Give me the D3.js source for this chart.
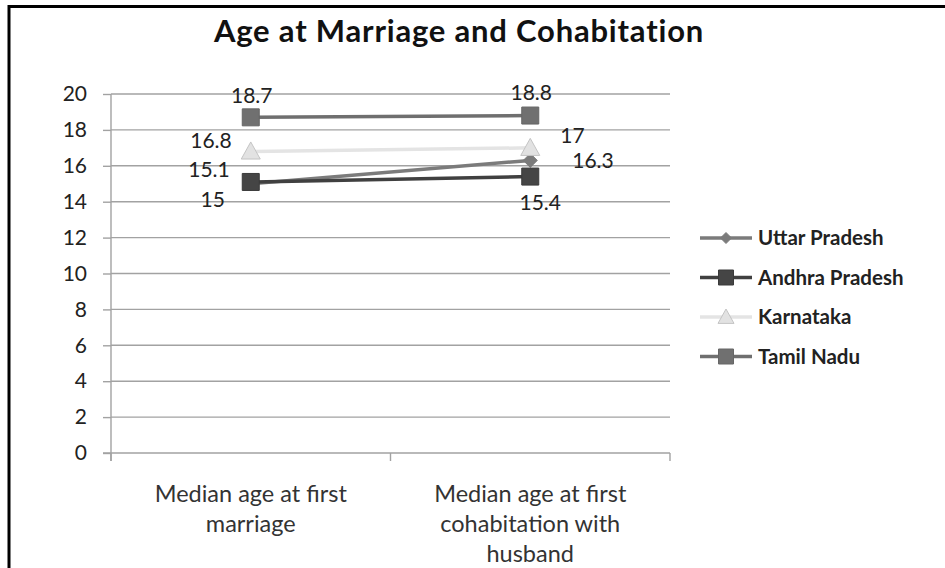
<!DOCTYPE html>
<html>
<head>
<meta charset="utf-8">
<script src="https://cdn.jsdelivr.net/npm/d3@7"></script>
<style>
  html, body { margin: 0; padding: 0; background: #fff; }
  svg { display: block; font-family: Lato, "Open Sans", sans-serif; }
</style>
</head>
<body>
<svg id="chart" width="945" height="568"></svg>
<script>
// Categories on the x axis
const categories = [
  "Median age at first marriage",
  "Median age at first cohabitation with husband"
];
// Series names (legend order) and their values per category
const seriesNames = ["Uttar Pradesh", "Andhra Pradesh", "Karnataka", "Tamil Nadu"];
const uttarPradesh = [15, 16.3];
const andhraPradesh = [15.1, 15.4];
const karnataka = [16.8, 17];
const tamilNadu = [18.7, 18.8];
const yTicks = [0, 2, 4, 6, 8, 10, 12, 14, 16, 18, 20];

const series = [
  { name: seriesNames[0], values: uttarPradesh, color: "#7b7b7b", marker: "diamond", mFill: "#7b7b7b", mStroke: "#7b7b7b",
    labelPos: [{dx: -38, dy: 16, anchor: "middle"}, {dx: 42, dy: 0, anchor: "start"}] },
  { name: seriesNames[1], values: andhraPradesh, color: "#404040", marker: "square", mFill: "#454545", mStroke: "#3a3a3a",
    labelPos: [{dx: -21, dy: -12, anchor: "end"}, {dx: 10, dy: 26, anchor: "middle"}] },
  { name: seriesNames[2], values: karnataka, color: "#e4e4e4", marker: "triangle", mFill: "#e2e2e2", mStroke: "#c4c4c4",
    labelPos: [{dx: -19, dy: -11, anchor: "end"}, {dx: 30, dy: -12, anchor: "start"}] },
  { name: seriesNames[3], values: tamilNadu, color: "#6f6f6f", marker: "square", mFill: "#707070", mStroke: "#666",
    labelPos: [{dx: 1, dy: -22, anchor: "middle"}, {dx: 1, dy: -23, anchor: "middle"}] }
];

const svg = d3.select("#chart");

// Outer chart frame (right and bottom edges fall outside the view)
svg.append("rect")
  .attr("x", 9).attr("y", 6.5)
  .attr("width", 980).attr("height", 600)
  .attr("fill", "none").attr("stroke", "#000").attr("stroke-width", 3);

// Title
svg.append("text")
  .attr("x", 459).attr("y", 42)
  .attr("text-anchor", "middle")
  .attr("font-size", 31).attr("font-weight", "bold")
  .attr("letter-spacing", 0.8)
  .attr("fill", "#111")
  .text("Age at Marriage and Cohabitation");

const plot = { left: 111, right: 670, top: 94, bottom: 453 };

const x = d3.scaleBand().domain(categories).range([plot.left, plot.right]);
const y = d3.scaleLinear().domain([0, 20]).range([plot.bottom, plot.top]);

const gridColor = "#a2a2a2";

// Horizontal gridlines
svg.append("g").selectAll("line")
  .data(yTicks.filter(t => t > 0))
  .join("line")
  .attr("x1", plot.left).attr("x2", plot.right)
  .attr("y1", d => y(d)).attr("y2", d => y(d))
  .attr("stroke", gridColor).attr("stroke-width", 1.4);

// Y axis
const yAxis = svg.append("g")
  .attr("transform", `translate(${plot.left},0)`)
  .call(d3.axisLeft(y).tickValues(yTicks).tickSize(8).tickPadding(16).tickFormat(d3.format("d")));
yAxis.select(".domain").attr("stroke", gridColor).attr("stroke-width", 1.4)
  .attr("d", `M0,${plot.top}V${plot.bottom + 8}`);
yAxis.selectAll(".tick line").attr("stroke", gridColor).attr("stroke-width", 1.4);
yAxis.selectAll(".tick text").attr("font-size", 21).attr("fill", "#222")
  .attr("font-family", "Lato, sans-serif");

// X axis with ticks at category boundaries
const xAxis = svg.append("g");
xAxis.append("line")
  .attr("x1", plot.left - 8).attr("x2", plot.right)
  .attr("y1", plot.bottom).attr("y2", plot.bottom)
  .attr("stroke", gridColor).attr("stroke-width", 1.4);
const bounds = categories.map(c => x(c)).concat([x(categories[categories.length - 1]) + x.bandwidth()]);
xAxis.selectAll("line.tk")
  .data(bounds)
  .join("line").attr("class", "tk")
  .attr("x1", d => d).attr("x2", d => d)
  .attr("y1", plot.bottom).attr("y2", plot.bottom + 8)
  .attr("stroke", gridColor).attr("stroke-width", 1.4);

// Category labels, wrapped to the band width
const catFont = 23.5;
function wrapWords(text, maxWidth, fontSize) {
  const probe = svg.append("text").attr("font-size", fontSize).attr("font-family", "Lato, sans-serif");
  const words = text.split(" ");
  const lines = [];
  let line = [];
  for (const w of words) {
    const trial = line.concat([w]).join(" ");
    probe.text(trial);
    if (probe.node().getComputedTextLength() > maxWidth && line.length) {
      lines.push(line.join(" "));
      line = [w];
    } else {
      line.push(w);
    }
  }
  if (line.length) lines.push(line.join(" "));
  probe.remove();
  return lines;
}
categories.forEach(c => {
  const lines = wrapWords(c, 230, catFont);
  const t = svg.append("text")
    .attr("text-anchor", "middle")
    .attr("font-size", catFont).attr("fill", "#333")
    .attr("x", x(c) + x.bandwidth() / 2);
  lines.forEach((ln, i) => {
    t.append("tspan")
      .attr("x", x(c) + x.bandwidth() / 2)
      .attr("y", 502 + i * 30)
      .text(ln);
  });
});

// Marker shapes
function markerPath(type, size) {
  const h = size / 2;
  if (type === "square") return `M${-h},${-h}H${h}V${h}H${-h}Z`;
  if (type === "diamond") return `M0,${-h}L${h},0L0,${h}L${-h},0Z`;
  if (type === "triangle") return `M0,${-h}L${h},${h * 0.8}L${-h},${h * 0.8}Z`;
  return "";
}
const markerSize = { square: 17, diamond: 14, triangle: 19 };

const cx = c => x(c) + x.bandwidth() / 2;
const line = d3.line().x(d => cx(d.cat)).y(d => y(d.v));

// Lines and markers, drawn in series order
series.forEach(s => {
  const pts = s.values.map((v, i) => ({ cat: categories[i], v }));
  const g = svg.append("g");
  g.append("path")
    .attr("d", line(pts))
    .attr("fill", "none")
    .attr("stroke", s.color).attr("stroke-width", 3.5);
  g.selectAll("path.m")
    .data(pts)
    .join("path").attr("class", "m")
    .attr("transform", d => `translate(${cx(d.cat)},${y(d.v)})`)
    .attr("d", markerPath(s.marker, markerSize[s.marker]))
    .attr("fill", s.mFill).attr("stroke", s.mStroke).attr("stroke-width", 1);
});

// Value labels
series.forEach(s => {
  s.values.forEach((v, i) => {
    const p = s.labelPos[i];
    svg.append("text")
      .attr("x", cx(categories[i]) + p.dx)
      .attr("y", y(v) + p.dy)
      .attr("dy", "0.35em")
      .attr("text-anchor", p.anchor)
      .attr("font-size", 21).attr("fill", "#222")
      .text(String(v));
  });
});

// Legend
const legend = svg.append("g");
seriesNames.forEach((name, i) => {
  const s = series[i];
  const ly = 238 + i * 39.5;
  legend.append("line")
    .attr("x1", 700).attr("x2", 752).attr("y1", ly).attr("y2", ly)
    .attr("stroke", s.color).attr("stroke-width", 3.5);
  const sz = s.marker === "square" ? 15 : (s.marker === "diamond" ? 11 : 16);
  legend.append("path")
    .attr("transform", `translate(726,${ly})`)
    .attr("d", markerPath(s.marker, sz))
    .attr("fill", s.mFill).attr("stroke", s.mStroke).attr("stroke-width", 1);
  legend.append("text")
    .attr("x", 758).attr("y", ly).attr("dy", "0.35em")
    .attr("font-size", 20.5).attr("font-weight", "bold").attr("fill", "#222")
    .text(name);
});
</script>
</body>
</html>
